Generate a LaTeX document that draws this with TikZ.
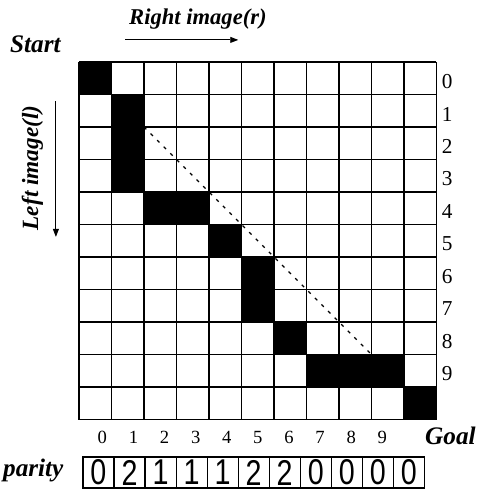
\documentclass[tikz,border=0pt]{standalone}
\usepackage{graphicx}
\usepackage{fontspec}
\setmainfont{Liberation Serif}
\newfontfamily\boxfont{Liberation Sans}
\usetikzlibrary{arrows.meta, positioning}

\begin{document}
\begin{tikzpicture}[
  x=0.86cm, y=-0.86cm,
  gridline/.style={line width=1.1pt},
  pathcell/.style={fill=black},
  title/.style={font=\fontsize{#1}{#1}\selectfont\bfseries\itshape, inner sep=0pt},
  title/.default=19,
  rowidx/.style={font=\fontsize{16}{16}\selectfont, inner sep=0pt},
  colidx/.style={font=\fontsize{14}{14}\selectfont, inner sep=0pt},
  dispbox/.style={draw, line width=0.8pt, minimum width=0.82cm,
                  minimum height=0.82cm, inner sep=0pt,
                  font=\boxfont\fontsize{27}{27}\selectfont},
  arr/.style={-{Triangle[length=6pt, width=4.5pt]}, line width=0.7pt}
]
\useasboundingbox (-2.43,-1.908) rectangle (12.615,13.2);

%% Matching path (black cells)
\foreach \c/\r in {0/0,1/1,1/2,1/3,2/4,3/4,4/5,5/6,5/7,6/8,7/9,8/9,9/9,10/10}
  \fill[pathcell] (\c,\r) rectangle ++(1,1);

%% Grid
\foreach \i in {0,...,11} {
  \draw[gridline] (\i,0) -- (\i,11);
  \draw[gridline] (0,\i) -- (11,\i);
}

%% Diagonal
\coordinate (diagA) at (2,2);
\coordinate (diagB) at (9,9);
\draw[line width=0.9pt, dash pattern=on 2.5pt off 4.5pt] (diagA) -- (diagB);

%% Index labels
\foreach \r in {0,...,9}
  \node[rowidx] (row\r) at (11.33,\r+0.6) {\r};
\foreach \c in {0,...,9}
  \node[colidx] (col\c) at (0.72+\c*0.957,11.54) {\c};

%% Titles and arrows
\node[title, anchor=base] (start) at (-1.34,-0.28) {Start};
\node[title=17, anchor=base] (right) at (3.66,-1.14) {Right image(r)};
\coordinate (rarrA) at (1.42,-0.68);
\coordinate (rarrB) at (4.9,-0.68);
\draw[arr] (rarrA) -- (rarrB);

\node[title=17.5, rotate=90, anchor=base] (left) at (-1.26,3.26) {Left image(l)};
\coordinate (larrA) at (-0.71,1.2);
\coordinate (larrB) at (-0.71,5.38);
\draw[arr] (larrA) -- (larrB);

\node[title, anchor=base] (goal) at (11.43,11.78) {Goal};

%% Disparity row
\node[title, anchor=base east] (disp) at (-0.47,12.75) {parity};
\foreach \d [count=\k from 0] in {0,2,1,1,1,2,2,0,0,0,0}
  \node[dispbox] (d\k) at (0.6+\k*0.955,12.63) {\scalebox{0.8}[1]{\d}};

\end{tikzpicture}
\end{document}
